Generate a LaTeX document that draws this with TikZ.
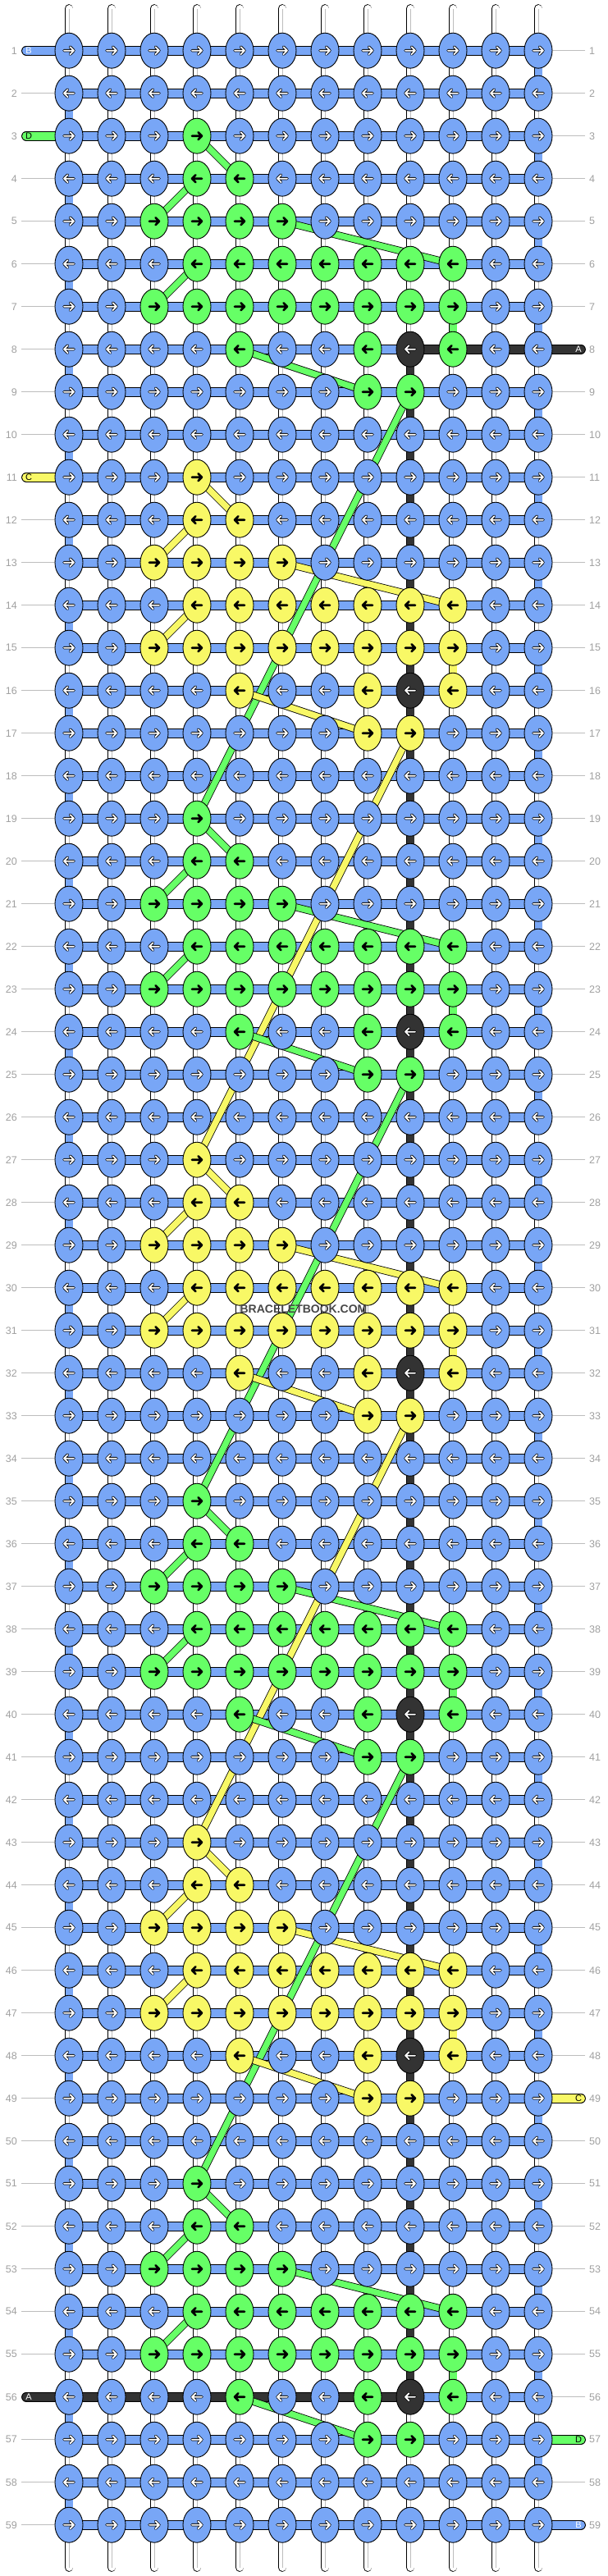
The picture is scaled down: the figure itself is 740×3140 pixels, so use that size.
\documentclass[tikz,border=0pt]{standalone}
\usepackage{fontspec}
\setmainfont{Liberation Sans}
\usetikzlibrary{shapes.geometric}

\definecolor{knot0}{HTML}{78A6F6}% blue
\definecolor{knot1}{HTML}{66FF66}% green
\definecolor{knot2}{HTML}{F8F866}% yellow
\definecolor{knot3}{HTML}{333333}% dark
\definecolor{numgray}{HTML}{A0A0A0}
\definecolor{linegray}{HTML}{BDBDBD}

\pgfdeclarelayer{bg}
\pgfdeclarelayer{mid}
\pgfsetlayers{bg,mid,main}

% arrow inside a knot, \ax \axn \bx set per row
\newcommand\arrowdraw[1]{%
  \draw[#1,line cap=round,line join=round]
    ([xshift=\axn pt]path picture bounding box.center) -- ([xshift=\ax pt]path picture bounding box.center)
    ([xshift=\bx pt,yshift=4.5pt]path picture bounding box.center) -- ([xshift=\ax pt]path picture bounding box.center)
    -- ([xshift=\bx pt,yshift=-4.5pt]path picture bounding box.center);}
\newcommand\knotarrow{%
  \ifnum\kw=1
    \arrowdraw{black,line width=3.5pt}\arrowdraw{white,line width=1.8pt}%
  \else
    \arrowdraw{black,line width=2.6pt}%
  \fi}

\tikzset{
  knotnode/.style={ellipse,draw=black,line width=0.9pt,fill=knot\kc,
    minimum width=34pt,minimum height=43pt,inner sep=0pt,
    path picture={\knotarrow}},
  hbar/.style={draw=black,line width=0.9pt,double=#1,double distance=10pt},
  vbar/.style={draw=black,line width=0.9pt,double=#1,double distance=9pt},
  thread/.style={draw=black,line width=0.8pt,double=#1,double distance=7.5pt},
  rownum/.style={text=numgray,font=\fontsize{12.5}{14}\selectfont,inner sep=0pt},
  endtag/.style={text=#1,font=\fontsize{11}{12}\selectfont,inner sep=0pt},
}

\begin{document}
\begin{tikzpicture}[x=1pt,y=-1pt]
\useasboundingbox (0,0) rectangle (740,3140);
\begin{pgfonlayer}{bg}
\fill[white] (0,0) rectangle (740,3140);
\end{pgfonlayer}

% knots: 0 blue, 1 green, 2 yellow, 3 dark
\foreach \rw in {1,...,59}{
  \pgfmathtruncatemacro\o{mod(\rw+5,8)}
  \pgfmathtruncatemacro\blk{mod(floor((\rw+13)/8),2)}
  \pgfmathtruncatemacro\inb{(\rw>2)*(\rw<59)}
  \pgfmathsetmacro\ax{6*(1-2*mod(\rw+1,2))}
  \pgfmathsetmacro\axn{-6*(1-2*mod(\rw+1,2))}
  \pgfmathsetmacro\bx{1.5*(1-2*mod(\rw+1,2))}
  \foreach \cl in {1,...,12}{
    \pgfmathtruncatemacro\on{\inb*((\o==0)*(\cl==4)+(\o==1)*(\cl>3)*(\cl<6)+(\o==2)*(\cl>2)*(\cl<7)+(\o==3)*(\cl>3)*(\cl<11)+(\o==4)*(\cl>2)*(\cl<11)+(\o==5)*((\cl==5)+(\cl==8)+(\cl==10))+(\o==6)*(\cl>7)*(\cl<10))}
    \pgfmathtruncatemacro\kc{\on*(1+\blk)+3*\inb*(\o==5)*(\cl==9)}
    \pgfmathtruncatemacro\kw{(\kc==0)+(\kc==3)}
    \node[knotnode] (k-\rw-\cl) at ({84+52*(\cl-1)},{61.7+52*(\rw-1)}) {};
  }
}

% row numbers and guide lines
\foreach \rw in {1,...,59}{
  \node[rownum,anchor=east] (ln-\rw) at (21,{61.7+52*(\rw-1)}) {\rw};
  \node[rownum,anchor=west] (rn-\rw) at (718,{61.7+52*(\rw-1)}) {\rw};
  \pgfmathtruncatemacro\hl{(\rw==1)+(\rw==3)+(\rw==11)+(\rw==56)}
  \pgfmathtruncatemacro\hr{(\rw==8)+(\rw==49)+(\rw==57)+(\rw==59)}
  \begin{pgfonlayer}{bg}
  \ifnum\hl=0 \draw[linegray,line width=1pt] ([xshift=5pt]ln-\rw.east) -- (k-\rw-1.center); \fi
  \ifnum\hr=0 \draw[linegray,line width=1pt] ([xshift=-5pt]rn-\rw.west) -- (k-\rw-12.center); \fi
  \end{pgfonlayer}
}

\begin{pgfonlayer}{bg}
% base threads between rows
\foreach \rw in {1,...,58}{
  \pgfmathtruncatemacro\nx{\rw+1}
  \foreach \cl in {1,...,12}{
    \draw[vbar=white] (k-\rw-\cl.center) -- (k-\nx-\cl.center);
    \draw[linegray,line width=0.8pt] (k-\rw-\cl.center) -- (k-\nx-\cl.center);
  }
}
% loose ends top and bottom
\foreach \cl in {1,...,12}{
  \coordinate (tp-\cl) at ({84+52*(\cl-1)},10.5);
  \coordinate (bt-\cl) at ({84+52*(\cl-1)},3129.5);
  \draw[vbar=white,line cap=round] (tp-\cl) -- (k-1-\cl.center);
  \draw[linegray,line width=0.8pt] (tp-\cl) -- (k-1-\cl.center);
  \draw[vbar=white,line cap=round] (bt-\cl) -- (k-59-\cl.center);
  \draw[linegray,line width=0.8pt] (bt-\cl) -- (k-59-\cl.center);
}
% turns at the edges
\foreach \rw in {2,4,...,58}{
  \pgfmathtruncatemacro\nx{\rw+1}
  \draw[vbar=knot0] (k-\rw-1.center) -- (k-\nx-1.center);
}
\foreach \rw in {1,3,...,57}{
  \pgfmathtruncatemacro\nx{\rw+1}
  \draw[vbar=knot0] (k-\rw-12.center) -- (k-\nx-12.center);
}
% dark thread down column 9
\foreach \rw in {8,...,55}{
  \pgfmathtruncatemacro\nx{\rw+1}
  \draw[vbar=knot3] (k-\rw-9.center) -- (k-\nx-9.center);
}
% rows
\foreach \rw in {1,...,59}{
  \foreach \cl in {1,...,11}{
    \pgfmathtruncatemacro\nx{\cl+1}
    \pgfmathtruncatemacro\hk{3*((\rw==8)*(\cl>8)+(\rw==56)*(\cl<9))}
    \draw[hbar=knot\hk] (k-\rw-\cl.center) -- (k-\rw-\nx.center);
  }
}
\end{pgfonlayer}

% thread ends
\foreach \rw/\cc/\lt/\tc in {1/0/B/white,3/1/D/black,11/2/C/black,56/3/A/white}{
  \coordinate (lb-\rw) at (32,{61.7+52*(\rw-1)});
  \begin{pgfonlayer}{bg}
  \draw[hbar=knot\cc,line cap=round] (lb-\rw) -- (k-\rw-1.center);
  \end{pgfonlayer}
  \node[endtag=\tc] (lt-\rw) at (35,{61.7+52*(\rw-1)}) {\lt};
}
\foreach \rw/\cc/\lt/\tc in {8/3/A/white,49/2/C/black,57/1/D/black,59/0/B/white}{
  \coordinate (rb-\rw) at (708,{61.7+52*(\rw-1)});
  \begin{pgfonlayer}{bg}
  \draw[hbar=knot\cc,line cap=round] (rb-\rw) -- (k-\rw-12.center);
  \end{pgfonlayer}
  \node[endtag=\tc] (rt-\rw) at (705,{61.7+52*(\rw-1)}) {\lt};
}

% green and yellow threads
\begin{pgfonlayer}{mid}
\foreach \st [count=\j from 0] in {3,11,...,51}{
  \pgfmathtruncatemacro\cc{1+mod(\j,2)}
  \pgfmathtruncatemacro\sa{\st+1}
  \pgfmathtruncatemacro\sb{\st+2}
  \pgfmathtruncatemacro\sc{\st+3}
  \pgfmathtruncatemacro\sd{\st+4}
  \pgfmathtruncatemacro\se{\st+5}
  \pgfmathtruncatemacro\sf{\st+6}
  \pgfmathtruncatemacro\sg{\st+16}
  \draw[thread=knot\cc] (k-\st-4.center) -- (k-\sa-5.center);
  \draw[thread=knot\cc] (k-\sa-4.center) -- (k-\sb-3.center);
  \draw[thread=knot\cc] (k-\sb-6.center) -- (k-\sc-10.center);
  \draw[thread=knot\cc] (k-\sc-4.center) -- (k-\sd-3.center);
  \draw[vbar=knot\cc] (k-\sd-10.center) -- (k-\se-10.center);
  \draw[thread=knot\cc] (k-\se-5.center) -- (k-\sf-8.center);
  \ifnum\st<40 \draw[thread=knot\cc] (k-\sf-9.center) -- (k-\sg-4.center); \fi
}
\end{pgfonlayer}

\node[text=black!72,font=\bfseries\fontsize{14}{14}\selectfont,inner sep=0pt] (wm) at (370,1596) {BRACELETBOOK.COM};
\end{tikzpicture}
\end{document}
